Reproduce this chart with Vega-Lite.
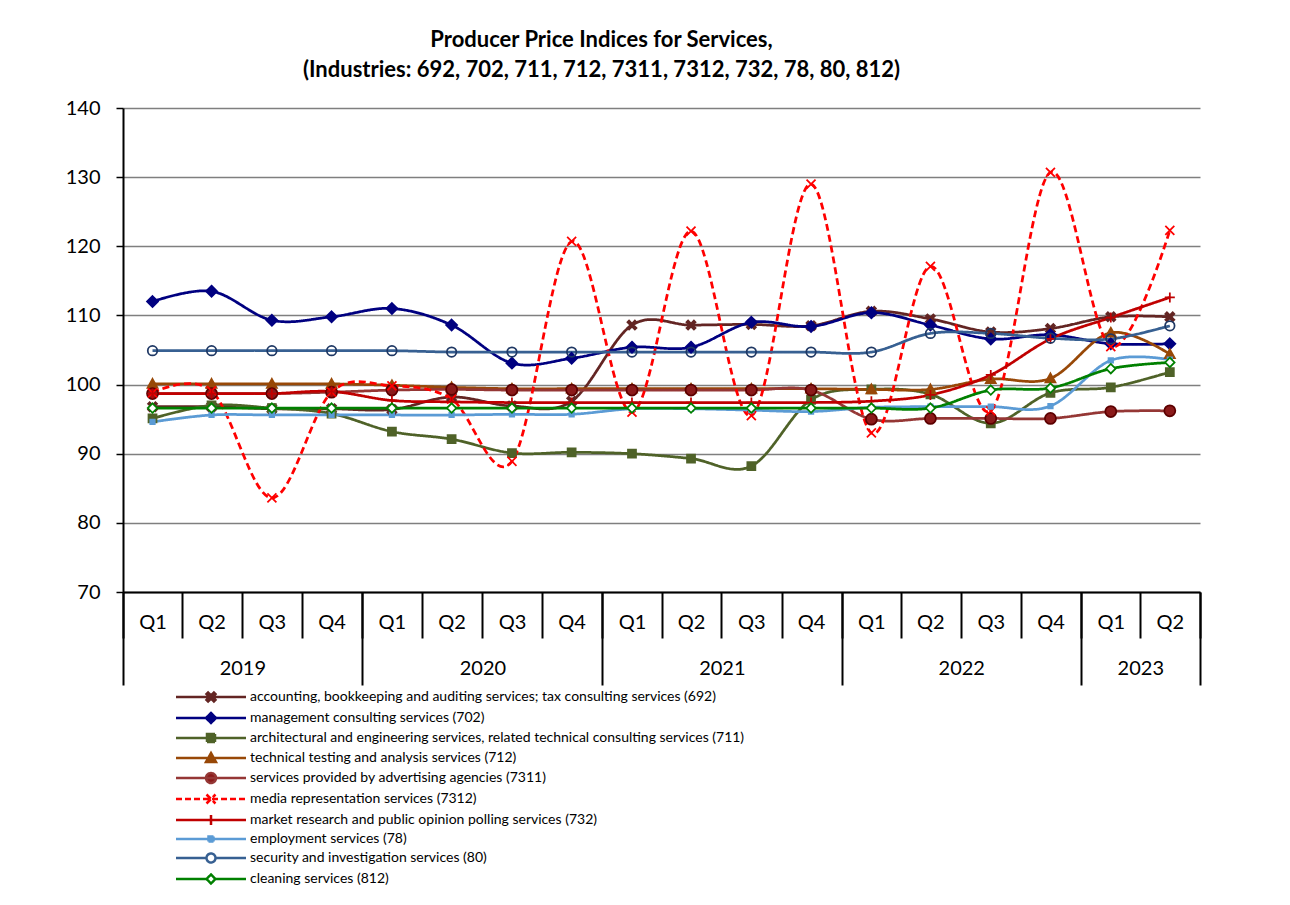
{
  "$schema": "https://vega.github.io/schema/vega-lite/v6.json",
  "width": 1077,
  "height": 484,
  "autosize": "none",
  "padding": {"left": 123, "top": 108, "right": 90, "bottom": 313},
  "background": "white",
  "config": {"font": "Lato", "view": {"stroke": null}},
  "title": {
    "text": ["Producer Price Indices for Services,", "(Industries: 692, 702, 711, 712, 7311, 7312, 732, 78, 80, 812)"],
    "fontSize": 22, "fontWeight": "bold", "color": "black", "anchor": "middle", "frame": "group",
    "dx": -60, "offset": 16, "lineHeight": 30
  },
  "data": {"values": [
    {"c":"692","q":"2019-02-15","v":96.8},{"c":"692","q":"2019-05-16","v":96.8},{"c":"692","q":"2019-08-16","v":96.5},{"c":"692","q":"2019-11-15","v":96.5},
    {"c":"692","q":"2020-02-15","v":96.4},{"c":"692","q":"2020-05-16","v":98.2},{"c":"692","q":"2020-08-16","v":96.9},{"c":"692","q":"2020-11-15","v":97.6},
    {"c":"692","q":"2021-02-15","v":108.6},{"c":"692","q":"2021-05-16","v":108.6},{"c":"692","q":"2021-08-16","v":108.7},{"c":"692","q":"2021-11-15","v":108.5},
    {"c":"692","q":"2022-02-15","v":110.6},{"c":"692","q":"2022-05-16","v":109.5},{"c":"692","q":"2022-08-16","v":107.6},{"c":"692","q":"2022-11-15","v":108.1},
    {"c":"692","q":"2023-02-15","v":109.8},{"c":"692","q":"2023-05-16","v":109.8},

    {"c":"702","q":"2019-02-15","v":112.0},{"c":"702","q":"2019-05-16","v":113.5},{"c":"702","q":"2019-08-16","v":109.3},{"c":"702","q":"2019-11-15","v":109.8},
    {"c":"702","q":"2020-02-15","v":111.0},{"c":"702","q":"2020-05-16","v":108.6},{"c":"702","q":"2020-08-16","v":103.1},{"c":"702","q":"2020-11-15","v":103.8},
    {"c":"702","q":"2021-02-15","v":105.4},{"c":"702","q":"2021-05-16","v":105.4},{"c":"702","q":"2021-08-16","v":109.0},{"c":"702","q":"2021-11-15","v":108.4},
    {"c":"702","q":"2022-02-15","v":110.4},{"c":"702","q":"2022-05-16","v":108.6},{"c":"702","q":"2022-08-16","v":106.6},{"c":"702","q":"2022-11-15","v":107.2},
    {"c":"702","q":"2023-02-15","v":105.9},{"c":"702","q":"2023-05-16","v":105.9},

    {"c":"711","q":"2019-02-15","v":95.1},{"c":"711","q":"2019-05-16","v":97.0},{"c":"711","q":"2019-08-16","v":96.6},{"c":"711","q":"2019-11-15","v":95.8},
    {"c":"711","q":"2020-02-15","v":93.2},{"c":"711","q":"2020-05-16","v":92.1},{"c":"711","q":"2020-08-16","v":90.1},{"c":"711","q":"2020-11-15","v":90.2},
    {"c":"711","q":"2021-02-15","v":90.0},{"c":"711","q":"2021-05-16","v":89.3},{"c":"711","q":"2021-08-16","v":88.2},{"c":"711","q":"2021-11-15","v":97.8},
    {"c":"711","q":"2022-02-15","v":99.3},{"c":"711","q":"2022-05-16","v":98.6},{"c":"711","q":"2022-08-16","v":94.4},{"c":"711","q":"2022-11-15","v":98.8},
    {"c":"711","q":"2023-02-15","v":99.6},{"c":"711","q":"2023-05-16","v":101.8},

    {"c":"712","q":"2019-02-15","v":100.1},{"c":"712","q":"2019-05-16","v":100.1},{"c":"712","q":"2019-08-16","v":100.1},{"c":"712","q":"2019-11-15","v":100.1},
    {"c":"712","q":"2020-02-15","v":99.9},{"c":"712","q":"2020-05-16","v":99.6},{"c":"712","q":"2020-08-16","v":99.4},{"c":"712","q":"2020-11-15","v":99.4},
    {"c":"712","q":"2021-02-15","v":99.4},{"c":"712","q":"2021-05-16","v":99.4},{"c":"712","q":"2021-08-16","v":99.4},{"c":"712","q":"2021-11-15","v":99.4},
    {"c":"712","q":"2022-02-15","v":99.3},{"c":"712","q":"2022-05-16","v":99.3},{"c":"712","q":"2022-08-16","v":100.8},{"c":"712","q":"2022-11-15","v":100.9},
    {"c":"712","q":"2023-02-15","v":107.5},{"c":"712","q":"2023-05-16","v":104.4},

    {"c":"7311","q":"2019-02-15","v":98.7},{"c":"7311","q":"2019-05-16","v":98.7},{"c":"7311","q":"2019-08-16","v":98.7},{"c":"7311","q":"2019-11-15","v":98.9},
    {"c":"7311","q":"2020-02-15","v":99.2},{"c":"7311","q":"2020-05-16","v":99.3},{"c":"7311","q":"2020-08-16","v":99.2},{"c":"7311","q":"2020-11-15","v":99.2},
    {"c":"7311","q":"2021-02-15","v":99.2},{"c":"7311","q":"2021-05-16","v":99.2},{"c":"7311","q":"2021-08-16","v":99.2},{"c":"7311","q":"2021-11-15","v":99.2},
    {"c":"7311","q":"2022-02-15","v":95.0},{"c":"7311","q":"2022-05-16","v":95.1},{"c":"7311","q":"2022-08-16","v":95.1},{"c":"7311","q":"2022-11-15","v":95.1},
    {"c":"7311","q":"2023-02-15","v":96.1},{"c":"7311","q":"2023-05-16","v":96.2},

    {"c":"7312","q":"2019-02-15","v":98.8},{"c":"7312","q":"2019-05-16","v":99.1},{"c":"7312","q":"2019-08-16","v":83.6},{"c":"7312","q":"2019-11-15","v":98.9},
    {"c":"7312","q":"2020-02-15","v":99.8},{"c":"7312","q":"2020-05-16","v":97.9},{"c":"7312","q":"2020-08-16","v":88.9},{"c":"7312","q":"2020-11-15","v":120.7},
    {"c":"7312","q":"2021-02-15","v":96.0},{"c":"7312","q":"2021-05-16","v":122.2},{"c":"7312","q":"2021-08-16","v":95.5},{"c":"7312","q":"2021-11-15","v":129.0},
    {"c":"7312","q":"2022-02-15","v":93.0},{"c":"7312","q":"2022-05-16","v":117.1},{"c":"7312","q":"2022-08-16","v":96.2},{"c":"7312","q":"2022-11-15","v":130.7},
    {"c":"7312","q":"2023-02-15","v":105.5},{"c":"7312","q":"2023-05-16","v":122.3},

    {"c":"732","q":"2019-02-15","v":98.7},{"c":"732","q":"2019-05-16","v":98.7},{"c":"732","q":"2019-08-16","v":98.7},{"c":"732","q":"2019-11-15","v":99.0},
    {"c":"732","q":"2020-02-15","v":97.7},{"c":"732","q":"2020-05-16","v":97.5},{"c":"732","q":"2020-08-16","v":97.4},{"c":"732","q":"2020-11-15","v":97.4},
    {"c":"732","q":"2021-02-15","v":97.4},{"c":"732","q":"2021-05-16","v":97.4},{"c":"732","q":"2021-08-16","v":97.4},{"c":"732","q":"2021-11-15","v":97.4},
    {"c":"732","q":"2022-02-15","v":97.6},{"c":"732","q":"2022-05-16","v":98.5},{"c":"732","q":"2022-08-16","v":101.4},{"c":"732","q":"2022-11-15","v":106.6},
    {"c":"732","q":"2023-02-15","v":109.7},{"c":"732","q":"2023-05-16","v":112.6},

    {"c":"78","q":"2019-02-15","v":94.6},{"c":"78","q":"2019-05-16","v":95.6},{"c":"78","q":"2019-08-16","v":95.6},{"c":"78","q":"2019-11-15","v":95.6},
    {"c":"78","q":"2020-02-15","v":95.6},{"c":"78","q":"2020-05-16","v":95.6},{"c":"78","q":"2020-08-16","v":95.7},{"c":"78","q":"2020-11-15","v":95.7},
    {"c":"78","q":"2021-02-15","v":96.5},{"c":"78","q":"2021-05-16","v":96.5},{"c":"78","q":"2021-08-16","v":96.3},{"c":"78","q":"2021-11-15","v":96.1},
    {"c":"78","q":"2022-02-15","v":96.7},{"c":"78","q":"2022-05-16","v":96.8},{"c":"78","q":"2022-08-16","v":96.8},{"c":"78","q":"2022-11-15","v":96.9},
    {"c":"78","q":"2023-02-15","v":103.5},{"c":"78","q":"2023-05-16","v":103.6},

    {"c":"80","q":"2019-02-15","v":104.9},{"c":"80","q":"2019-05-16","v":104.9},{"c":"80","q":"2019-08-16","v":104.9},{"c":"80","q":"2019-11-15","v":104.9},
    {"c":"80","q":"2020-02-15","v":104.9},{"c":"80","q":"2020-05-16","v":104.7},{"c":"80","q":"2020-08-16","v":104.7},{"c":"80","q":"2020-11-15","v":104.7},
    {"c":"80","q":"2021-02-15","v":104.7},{"c":"80","q":"2021-05-16","v":104.7},{"c":"80","q":"2021-08-16","v":104.7},{"c":"80","q":"2021-11-15","v":104.7},
    {"c":"80","q":"2022-02-15","v":104.7},{"c":"80","q":"2022-05-16","v":107.4},{"c":"80","q":"2022-08-16","v":107.4},{"c":"80","q":"2022-11-15","v":106.7},
    {"c":"80","q":"2023-02-15","v":106.6},{"c":"80","q":"2023-05-16","v":108.5},

    {"c":"812","q":"2019-02-15","v":96.6},{"c":"812","q":"2019-05-16","v":96.6},{"c":"812","q":"2019-08-16","v":96.6},{"c":"812","q":"2019-11-15","v":96.6},
    {"c":"812","q":"2020-02-15","v":96.6},{"c":"812","q":"2020-05-16","v":96.6},{"c":"812","q":"2020-08-16","v":96.6},{"c":"812","q":"2020-11-15","v":96.6},
    {"c":"812","q":"2021-02-15","v":96.6},{"c":"812","q":"2021-05-16","v":96.6},{"c":"812","q":"2021-08-16","v":96.6},{"c":"812","q":"2021-11-15","v":96.6},
    {"c":"812","q":"2022-02-15","v":96.6},{"c":"812","q":"2022-05-16","v":96.6},{"c":"812","q":"2022-08-16","v":99.2},{"c":"812","q":"2022-11-15","v":99.5},
    {"c":"812","q":"2023-02-15","v":102.3},{"c":"812","q":"2023-05-16","v":103.2}
  ]},
  "resolve": {
    "axis": {"x": "independent"},
    "scale": {"shape": "independent", "fill": "independent", "stroke": "independent", "strokeDash": "independent"},
    "legend": {"shape": "independent", "fill": "independent", "stroke": "independent", "strokeDash": "independent"}
  },
  "layer": [
    {
      "mark": {"type": "line", "interpolate": "cardinal", "strokeWidth": 2.75},
      "encoding": {
        "x": {"field": "q", "type": "temporal",
          "scale": {"type": "utc", "domain": [{"year":2019,"month":1,"date":1,"utc":true},{"year":2023,"month":7,"date":1,"utc":true}]},
          "axis": {"orient": "bottom", "title": null, "grid": false, "ticks": false,
            "domain": true, "domainColor": "black", "domainWidth": 2,
            "values": [
              {"year":2019,"month":2,"date":15,"utc":true},{"year":2019,"month":5,"date":16,"utc":true},{"year":2019,"month":8,"date":16,"utc":true},{"year":2019,"month":11,"date":15,"utc":true},
              {"year":2020,"month":2,"date":15,"utc":true},{"year":2020,"month":5,"date":16,"utc":true},{"year":2020,"month":8,"date":16,"utc":true},{"year":2020,"month":11,"date":15,"utc":true},
              {"year":2021,"month":2,"date":15,"utc":true},{"year":2021,"month":5,"date":16,"utc":true},{"year":2021,"month":8,"date":16,"utc":true},{"year":2021,"month":11,"date":15,"utc":true},
              {"year":2022,"month":2,"date":15,"utc":true},{"year":2022,"month":5,"date":16,"utc":true},{"year":2022,"month":8,"date":16,"utc":true},{"year":2022,"month":11,"date":15,"utc":true},
              {"year":2023,"month":2,"date":15,"utc":true},{"year":2023,"month":5,"date":16,"utc":true}
            ],
            "labelExpr": "'Q' + utcquarter(datum.value)",
            "labelFontSize": 20, "labelColor": "black", "labelPadding": 30, "labelBaseline": "middle",
            "labelFlush": false, "labelOverlap": false}},
        "y": {"field": "v", "type": "quantitative",
          "scale": {"domain": [70, 140], "nice": false, "zero": false},
          "axis": {"orient": "left", "title": null, "values": [70, 80, 90, 100, 110, 120, 130, 140],
            "grid": true, "gridColor": "#7F7F7F", "gridWidth": 1.5,
            "domainColor": "black", "domainWidth": 2, "tickColor": "black", "tickWidth": 1.5, "tickSize": 7,
            "labelFontSize": 20, "labelColor": "black", "labelPadding": 16, "labelFlush": false}},
        "color": {"field": "c", "type": "nominal",
          "scale": {"domain": ["692","702","711","712","7311","7312","732","78","80","812"],
            "range": ["#632523","#000080","#4F6228","#984807","#953735","#FF0000","#C00000","#5B9BD5","#376092","#008000"]},
          "legend": null},
        "strokeDash": {"field": "c", "type": "nominal",
          "scale": {"domain": ["692","702","711","712","7311","7312","732","78","80","812"],
            "range": [[1,0],[1,0],[1,0],[1,0],[1,0],[7,4],[1,0],[1,0],[1,0],[1,0]]},
          "legend": null}
      }
    },
    {
      "mark": {"type": "point", "opacity": 1, "strokeWidth": 1.75, "size": 100},
      "encoding": {
        "x": {"field": "q", "type": "temporal",
          "scale": {"type": "utc", "domain": [{"year":2019,"month":1,"date":1,"utc":true},{"year":2023,"month":7,"date":1,"utc":true}]},
          "axis": {"orient": "bottom", "title": null, "grid": false, "labels": false, "domain": false,
            "ticks": true, "tickSize": 46, "tickWidth": 2, "tickColor": "black",
            "values": [
              {"year":2019,"month":1,"date":1,"utc":true},{"year":2019,"month":4,"date":1,"utc":true},{"year":2019,"month":7,"date":1,"utc":true},{"year":2019,"month":10,"date":1,"utc":true},
              {"year":2020,"month":1,"date":1,"utc":true},{"year":2020,"month":4,"date":1,"utc":true},{"year":2020,"month":7,"date":1,"utc":true},{"year":2020,"month":10,"date":1,"utc":true},
              {"year":2021,"month":1,"date":1,"utc":true},{"year":2021,"month":4,"date":1,"utc":true},{"year":2021,"month":7,"date":1,"utc":true},{"year":2021,"month":10,"date":1,"utc":true},
              {"year":2022,"month":1,"date":1,"utc":true},{"year":2022,"month":4,"date":1,"utc":true},{"year":2022,"month":7,"date":1,"utc":true},{"year":2022,"month":10,"date":1,"utc":true},
              {"year":2023,"month":1,"date":1,"utc":true},{"year":2023,"month":4,"date":1,"utc":true},{"year":2023,"month":7,"date":1,"utc":true}
            ]}},
        "y": {"field": "v", "type": "quantitative",
          "scale": {"domain": [70, 140], "nice": false, "zero": false},
          "axis": {"orient": "left", "title": null, "values": [70, 80, 90, 100, 110, 120, 130, 140],
            "grid": true, "gridColor": "#7F7F7F", "gridWidth": 1.5,
            "domainColor": "black", "domainWidth": 2, "tickColor": "black", "tickWidth": 1.5, "tickSize": 7,
            "labelFontSize": 20, "labelColor": "black", "labelPadding": 16, "labelFlush": false}},
        "shape": {"field": "c", "type": "nominal",
          "scale": {"domain": ["692","702","711","712","7311","7312","732","78","80","812"],
            "range": ["M-0.9,-0.58L-0.58,-0.9L0,-0.32L0.58,-0.9L0.9,-0.58L0.32,0L0.9,0.58L0.58,0.9L0,0.32L-0.58,0.9L-0.9,0.58L-0.32,0Z","M0,-1.1L1.1,0L0,1.1L-1.1,0Z","M-0.8,-0.8L0.8,-0.8L0.8,0.8L-0.8,0.8Z","M0,-1L1,0.8L-1,0.8Z","M-1.1,0A1.1,1.1 0 1,0 1.1,0A1.1,1.1 0 1,0 -1.1,0Z","M-0.9,-0.9L0.9,0.9M-0.9,0.9L0.9,-0.9","M-1,0L1,0M0,-1L0,1","M-0.45,-0.45L0.45,-0.45L0.45,0.45L-0.45,0.45Z","M-0.95,0A0.95,0.95 0 1,0 0.95,0A0.95,0.95 0 1,0 -0.95,0Z","M0,-0.95L0.95,0L0,0.95L-0.95,0Z"]},
          "legend": null},
        "fill": {"field": "c", "type": "nominal",
          "scale": {"domain": ["692","702","711","712","7311","7312","732","78","80","812"],
            "range": ["#632523","#000080","#4F6228","#984807","#8B1A1A","transparent","transparent","#5B9BD5","transparent","white"]},
          "legend": null},
        "stroke": {"field": "c", "type": "nominal",
          "scale": {"domain": ["692","702","711","712","7311","7312","732","78","80","812"],
            "range": ["#632523","#000080","#4F6228","#984807","#5C0000","#FF0000","#C00000","#5B9BD5","#1F3864","#008000"]},
          "legend": null}
      }
    },
    {
      "mark": {"type": "point", "opacity": 0},
      "encoding": {
        "x": {"field": "q", "type": "temporal",
          "scale": {"type": "utc", "domain": [{"year":2019,"month":1,"date":1,"utc":true},{"year":2023,"month":7,"date":1,"utc":true}]},
          "axis": {"orient": "bottom", "title": null, "grid": false, "labels": false, "domain": false,
            "ticks": true, "tickSize": 93, "tickWidth": 2, "tickColor": "black",
            "values": [
              {"year":2019,"month":1,"date":1,"utc":true},{"year":2020,"month":1,"date":1,"utc":true},{"year":2021,"month":1,"date":1,"utc":true},
              {"year":2022,"month":1,"date":1,"utc":true},{"year":2023,"month":1,"date":1,"utc":true},{"year":2023,"month":7,"date":1,"utc":true}
            ]}}
      }
    },
    {
      "mark": {"type": "point", "opacity": 0},
      "encoding": {
        "x": {"field": "q", "type": "temporal",
          "scale": {"type": "utc", "domain": [{"year":2019,"month":1,"date":1,"utc":true},{"year":2023,"month":7,"date":1,"utc":true}]},
          "axis": {"orient": "bottom", "title": null, "grid": false, "ticks": false, "domain": false,
            "values": [
              {"year":2019,"month":7,"date":2,"utc":true},{"year":2020,"month":7,"date":2,"utc":true},{"year":2021,"month":7,"date":2,"utc":true},
              {"year":2022,"month":7,"date":2,"utc":true},{"year":2023,"month":4,"date":1,"utc":true}
            ],
            "labelExpr": "utcFormat(datum.value, '%Y')",
            "labelFontSize": 20, "labelColor": "black", "labelPadding": 76, "labelBaseline": "middle",
            "labelFlush": false, "labelOverlap": false}}
      }
    },
    {
      "transform": [{"filter": "datum.v > 1000"}],
      "mark": {"type": "point", "size": 100, "strokeWidth": 2.5, "opacity": 1},
      "encoding": {
        "shape": {"field": "c", "type": "nominal",
          "scale": {"domain": ["692","702","711","712","7311","7312","732","78","80","812"],
            "range": ["M-7,0L7,0M-0.9,-0.58L-0.58,-0.9L0,-0.32L0.58,-0.9L0.9,-0.58L0.32,0L0.9,0.58L0.58,0.9L0,0.32L-0.58,0.9L-0.9,0.58L-0.32,0Z","M-7,0L7,0M0,-1L1,0L0,1L-1,0Z","M-7,0L7,0M-0.8,-0.8L0.8,-0.8L0.8,0.8L-0.8,0.8Z","M-7,0L7,0M0,-1L1,0.8L-1,0.8Z","M-7,0L7,0M-1,0A1,1 0 1,0 1,0A1,1 0 1,0 -1,0Z","M-7,0L7,0M-0.9,-0.9L0.9,0.9M-0.9,0.9L0.9,-0.9","M-7,0L7,0M0,-1L0,1","M-7,0L7,0M-0.5,-0.5L0.5,-0.5L0.5,0.5L-0.5,0.5Z","M-7,0L-0.9,0M0.9,0L7,0M-0.9,0A0.9,0.9 0 1,0 0.9,0A0.9,0.9 0 1,0 -0.9,0Z","M-7,0L-0.9,0M0.9,0L7,0M0,-0.9L0.9,0L0,0.9L-0.9,0Z"]},
          "legend": {"orient": "none", "legendX": 81, "legendY": 582, "direction": "vertical", "title": null,
            "padding": 0, "symbolSize": 100, "symbolStrokeWidth": 2.5, "labelFontSize": 14, "labelColor": "black", "labelOffset": 32,
            "rowPadding": 1, "labelLimit": 1000,
            "labelExpr": "['accounting, bookkeeping and auditing services; tax consulting services (692)','management consulting services (702)','architectural and engineering services, related technical consulting services (711)','technical testing and analysis services (712)','services provided by advertising agencies (7311)','media representation services (7312)','market research and public opinion polling services (732)','employment services (78)','security and investigation services (80)','cleaning services (812)'][indexof(['692','702','711','712','7311','7312','732','78','80','812'], datum.value)]"}},
        "fill": {"field": "c", "type": "nominal",
          "scale": {"domain": ["692","702","711","712","7311","7312","732","78","80","812"],
            "range": ["#632523","#000080","#4F6228","#984807","#8B1A1A","transparent","transparent","#5B9BD5","white","white"]},
          "legend": {"orient": "none", "legendX": 81, "legendY": 582, "direction": "vertical", "title": null,
            "padding": 0, "symbolSize": 100, "symbolStrokeWidth": 2.5, "labelFontSize": 14, "labelColor": "black", "labelOffset": 32,
            "rowPadding": 1, "labelLimit": 1000,
            "labelExpr": "['accounting, bookkeeping and auditing services; tax consulting services (692)','management consulting services (702)','architectural and engineering services, related technical consulting services (711)','technical testing and analysis services (712)','services provided by advertising agencies (7311)','media representation services (7312)','market research and public opinion polling services (732)','employment services (78)','security and investigation services (80)','cleaning services (812)'][indexof(['692','702','711','712','7311','7312','732','78','80','812'], datum.value)]"}},
        "stroke": {"field": "c", "type": "nominal",
          "scale": {"domain": ["692","702","711","712","7311","7312","732","78","80","812"],
            "range": ["#632523","#000080","#4F6228","#984807","#953735","#FF0000","#C00000","#5B9BD5","#376092","#008000"]},
          "legend": {"orient": "none", "legendX": 81, "legendY": 582, "direction": "vertical", "title": null,
            "padding": 0, "symbolSize": 100, "symbolStrokeWidth": 2.5, "labelFontSize": 14, "labelColor": "black", "labelOffset": 32,
            "rowPadding": 1, "labelLimit": 1000,
            "labelExpr": "['accounting, bookkeeping and auditing services; tax consulting services (692)','management consulting services (702)','architectural and engineering services, related technical consulting services (711)','technical testing and analysis services (712)','services provided by advertising agencies (7311)','media representation services (7312)','market research and public opinion polling services (732)','employment services (78)','security and investigation services (80)','cleaning services (812)'][indexof(['692','702','711','712','7311','7312','732','78','80','812'], datum.value)]"}},
        "strokeDash": {"field": "c", "type": "nominal",
          "scale": {"domain": ["692","702","711","712","7311","7312","732","78","80","812"],
            "range": [[1,0],[1,0],[1,0],[1,0],[1,0],[6,3],[1,0],[1,0],[1,0],[1,0]]},
          "legend": {"orient": "none", "legendX": 81, "legendY": 582, "direction": "vertical", "title": null,
            "padding": 0, "symbolSize": 100, "symbolStrokeWidth": 2.5, "labelFontSize": 14, "labelColor": "black", "labelOffset": 32,
            "rowPadding": 1, "labelLimit": 1000,
            "labelExpr": "['accounting, bookkeeping and auditing services; tax consulting services (692)','management consulting services (702)','architectural and engineering services, related technical consulting services (711)','technical testing and analysis services (712)','services provided by advertising agencies (7311)','media representation services (7312)','market research and public opinion polling services (732)','employment services (78)','security and investigation services (80)','cleaning services (812)'][indexof(['692','702','711','712','7311','7312','732','78','80','812'], datum.value)]"}}
      }
    }
  ]
}
